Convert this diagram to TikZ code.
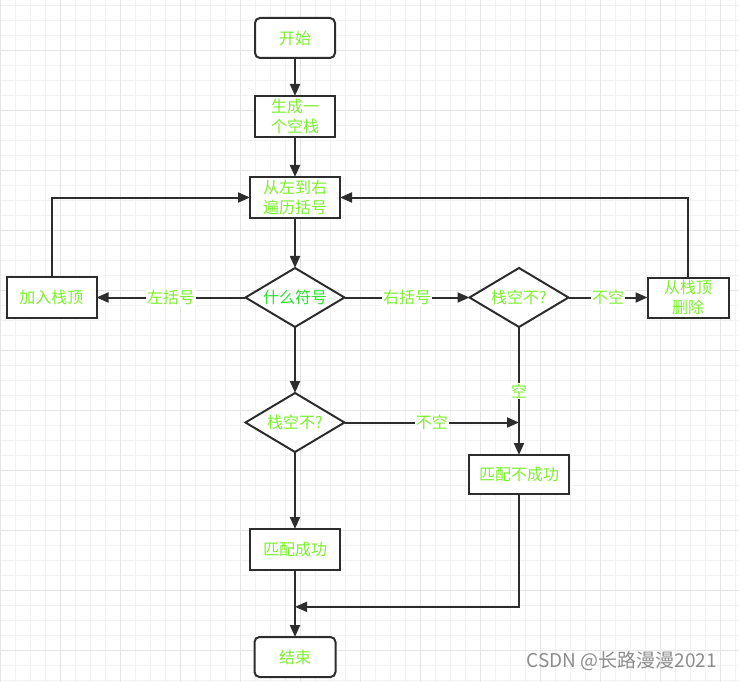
\documentclass[tikz,border=0pt]{standalone}
\usepackage{fontspec}
\setmainfont{Noto Sans CJK SC}
\usetikzlibrary{shapes.geometric, positioning, arrows.meta, calc}

\definecolor{txtgreen}{RGB}{125,240,45}
\definecolor{keygreen}{RGB}{45,225,45}
\definecolor{linegray}{RGB}{45,45,45}

\tikzset{
  box/.style={draw=linegray, line width=2pt, fill=white, minimum width=90pt,
    minimum height=41pt, inner sep=0pt, outer sep=0pt, align=center, text=txtgreen,
    font=\fontsize{16}{20}\selectfont},
  term/.style={box, rounded corners=5pt, minimum width=80pt, minimum height=40pt},
  choice/.style={box, diamond, aspect=1.66, minimum width=99pt, minimum height=59pt},
  lbl/.style={fill=white, inner sep=1pt, text=txtgreen, font=\fontsize{16}{16}\selectfont},
  flow/.style={draw=linegray, line width=2pt, -{Triangle[length=12pt,width=10pt]}},
  gridminor/.style={draw=black!5, line width=0.6pt},
  gridmajor/.style={draw=black!10, line width=0.7pt}
}

\begin{document}
\begin{tikzpicture}[x=1pt, y=-1pt]
\useasboundingbox (0,0) rectangle (739,682);
% background grid
\foreach \x in {0,15,...,735} \draw[gridminor] (\x,0) -- (\x,682);
\foreach \y in {5,20,...,680} \draw[gridminor] (0,\y) -- (739,\y);
\foreach \x in {0,60,...,720} \draw[gridmajor] (\x,0) -- (\x,682);
\foreach \y in {50,110,...,650} \draw[gridmajor] (0,\y) -- (739,\y);

% nodes
\node[term] (start) at (295,38) {开始};
\node[box, minimum width=80pt, below=38pt of start] (stack) {生成一\\个空栈};
\node[box, below=40pt of stack] (scan) {从左到右\\遍历括号};
\node[choice, below=50pt of scan, text=keygreen] (kind) {什么符号};
\node[box, left=149pt of kind] (push) {加入栈顶};
\node[choice, right=125pt of kind] (check1) {栈空不?};
\node[box, minimum width=81pt, minimum height=40pt, right=79pt of check1] (pop) {从栈顶\\删除};
\node[choice, below=66pt of kind] (check2) {栈空不?};
\node[box, minimum width=100pt, minimum height=39pt, below=128pt of check1] (fail) {匹配不成功};
\node[box, below=77pt of check2] (ok) {匹配成功};
\node[term, minimum width=81pt, below=67pt of ok] (stop) {结束};
\node[text=black!45, font=\fontsize{19}{19}\selectfont] (mark) at (622,661) {CSDN @长路漫漫2021};

\coordinate (j1) at (check2.east -| fail.north);
\coordinate (j2) at ($(ok.south)!0.55!(stop.north)$);

% connectors
\draw
    (start) edge[flow] (stack)
    (stack) edge[flow] (scan)
    (scan) edge[flow] (kind)
    (kind) edge[flow] node[lbl]{左括号} (push)
    (kind) edge[flow] node[lbl]{右括号} (check1)
    (check1) edge[flow] node[lbl]{不空} (pop)
    (kind) edge[flow] (check2)
    (check1) edge[flow] node[lbl]{空} (fail)
    (check2.east) edge[flow] node[lbl]{不空} (j1)
    (check2) edge[flow] (ok)
    (ok) edge[flow] (stop);
\draw[flow] (push.north) |- (scan.west);
\draw[flow] (pop.north) |- (scan.east);
\draw[flow] (fail.south) |- (j2);
\end{tikzpicture}
\end{document}
